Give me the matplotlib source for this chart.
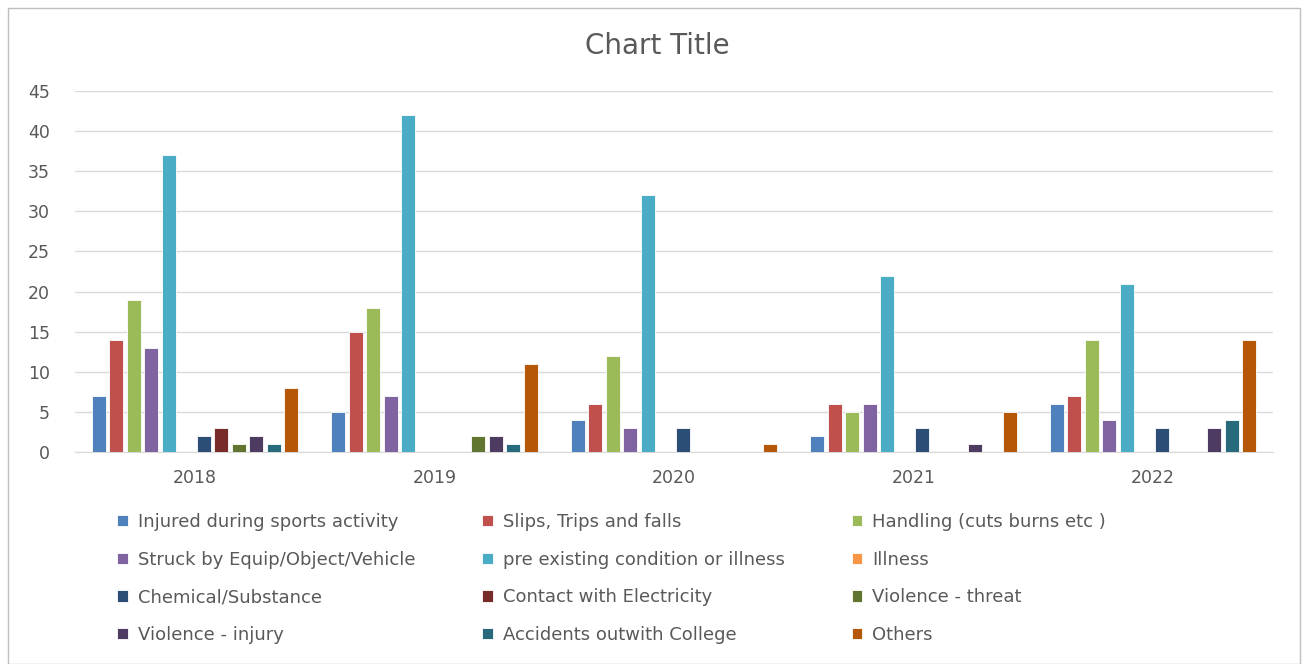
import matplotlib.pyplot as plt
import numpy as np
from matplotlib.patches import Rectangle

plt.rcParams['font.family'] = ['DejaVu Sans']

# 数据
years = ['2018', '2019', '2020', '2021', '2022']
categories = [
    'Injured during sports activity', 'Slips, Trips and falls', 'Handling (cuts burns etc )',
    'Struck by Equip/Object/Vehicle', 'pre existing condition or illness', 'Illness',
    'Chemical/Substance', 'Contact with Electricity', 'Violence - threat',
    'Violence - injury', 'Accidents outwith College', 'Others',
]
injured = [7, 5, 4, 2, 6]
slips = [14, 15, 6, 6, 7]
handling = [19, 18, 12, 5, 14]
struck = [13, 7, 3, 6, 4]
pre_existing = [37, 42, 32, 22, 21]
illness = [0, 0, 0, 0, 0]
chemical = [2, 0, 3, 3, 3]
electricity = [3, 0, 0, 0, 0]
violence_threat = [1, 2, 0, 0, 0]
violence_injury = [2, 2, 0, 1, 3]
accidents_outwith = [1, 1, 0, 0, 4]
others = [8, 11, 1, 5, 14]

series = [injured, slips, handling, struck, pre_existing, illness,
          chemical, electricity, violence_threat, violence_injury, accidents_outwith, others]
colors = ['#4F81BD', '#C0504D', '#9BBB59', '#8064A2', '#4BACC6', '#F79646',
          '#2C4D75', '#772C2A', '#5F7530', '#4D3B62', '#276A7C', '#B65708']

fig = plt.figure(figsize=(13.06, 6.64), dpi=100)
ax = fig.add_axes([75 / 1306, 1 - 452 / 664, (1273 - 75) / 1306, (452 - 91) / 664])

# 外框
fig.patches.append(Rectangle((8 / 1306, 0), 1292 / 1306, 656 / 664, transform=fig.transFigure,
                             fill=False, edgecolor='#BFBFBF', linewidth=1))

x = np.arange(len(years))
slot = 0.073
offsets = (np.arange(len(series)) - (len(series) - 1) / 2) * slot
handles = []
for vals, off, c, name in zip(series, offsets, colors, categories):
    b = ax.bar(x + off, vals, width=slot * 0.8, color=c, edgecolor='white', linewidth=0.6,
               label=name, zorder=3)
    handles.append(b)

ax.set_xlim(-0.5, len(years) - 0.5)
ax.set_ylim(0, 45)
ax.set_yticks(range(0, 46, 5))
ax.set_xticks(x)
ax.set_xticklabels(years)
ax.yaxis.grid(True, color='#D9D9D9', linewidth=1)
ax.set_axisbelow(True)
for s in ['top', 'right', 'left']:
    ax.spines[s].set_visible(False)
ax.spines['bottom'].set_color('#D9D9D9')
ax.tick_params(axis='both', length=0, labelsize=12.5, colors='#595959')
ax.tick_params(axis='x', pad=12)
ax.tick_params(axis='y', pad=18)

fig.text(657 / 1306, 1 - 46 / 664, 'Chart Title', ha='center', va='center',
         fontsize=20, color='#595959')

order = [0, 3, 6, 9, 1, 4, 7, 10, 2, 5, 8, 11]
fig.legend([handles[i] for i in order], [categories[i] for i in order],
           loc='upper left', bbox_to_anchor=(117 / 1306, 1 - 513 / 664), ncol=3,
           frameon=False, fontsize=13, labelcolor='#595959', handlelength=0.6,
           handleheight=0.6, handletextpad=0.55, columnspacing=3.7, labelspacing=1.09,
           borderpad=0, borderaxespad=0)

plt.savefig('out.png', dpi=100)
